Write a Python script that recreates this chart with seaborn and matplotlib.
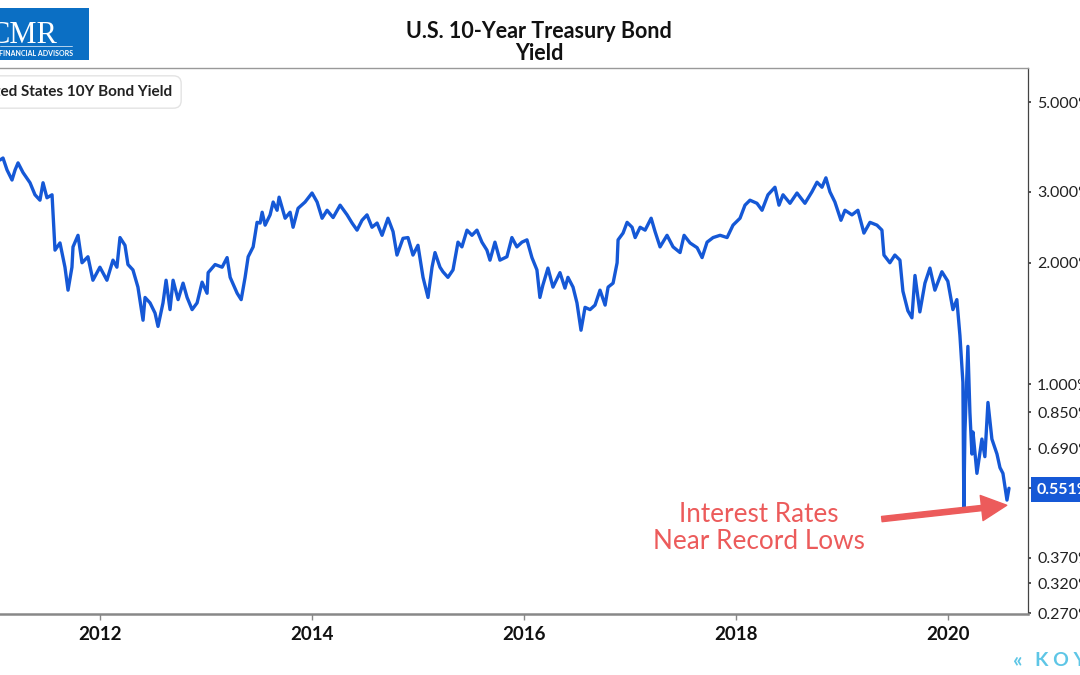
import numpy as np
import pandas as pd
import matplotlib
matplotlib.use("Agg")
import matplotlib.pyplot as plt
import matplotlib.dates as mdates
from matplotlib.patches import Rectangle
import seaborn as sns

# ---- data (decimal year, 10Y yield in %) ----
years = [
    2011.057, 2011.085, 2011.123, 2011.170, 2011.199, 2011.227, 2011.274, 2011.340,
    2011.387, 2011.434, 2011.463, 2011.500, 2011.548, 2011.576, 2011.623, 2011.670,
    2011.699, 2011.736, 2011.746, 2011.793, 2011.831, 2011.887, 2011.934, 2012.000,
    2012.066, 2012.123, 2012.160, 2012.189, 2012.236, 2012.264, 2012.311, 2012.358,
    2012.406, 2012.425, 2012.472, 2012.519, 2012.547, 2012.594, 2012.623, 2012.660,
    2012.689, 2012.736, 2012.783, 2012.821, 2012.868, 2012.915, 2012.962, 2013.009,
    2013.019, 2013.085, 2013.151, 2013.198, 2013.227, 2013.293, 2013.331, 2013.368,
    2013.397, 2013.444, 2013.481, 2013.510, 2013.529, 2013.557, 2013.604, 2013.633,
    2013.670, 2013.689, 2013.746, 2013.793, 2013.821, 2013.868, 2013.934, 2014.000,
    2014.048, 2014.095, 2014.142, 2014.199, 2014.265, 2014.331, 2014.378, 2014.425,
    2014.472, 2014.519, 2014.566, 2014.614, 2014.661, 2014.717, 2014.765, 2014.802,
    2014.859, 2014.906, 2014.953, 2015.000, 2015.048, 2015.095, 2015.133, 2015.161,
    2015.208, 2015.236, 2015.283, 2015.331, 2015.378, 2015.415, 2015.463, 2015.510,
    2015.557, 2015.604, 2015.651, 2015.680, 2015.727, 2015.774, 2015.840, 2015.887,
    2015.934, 2015.982, 2016.029, 2016.076, 2016.123, 2016.151, 2016.179, 2016.227,
    2016.274, 2016.340, 2016.387, 2016.415, 2016.463, 2016.500, 2016.538, 2016.576,
    2016.623, 2016.670, 2016.717, 2016.765, 2016.793, 2016.840, 2016.878, 2016.887,
    2016.934, 2016.972, 2017.019, 2017.048, 2017.095, 2017.142, 2017.199, 2017.236,
    2017.283, 2017.349, 2017.406, 2017.472, 2017.510, 2017.566, 2017.633, 2017.680,
    2017.727, 2017.784, 2017.850, 2017.916, 2017.972, 2018.038, 2018.085, 2018.132,
    2018.198, 2018.246, 2018.302, 2018.368, 2018.406, 2018.444, 2018.510, 2018.576,
    2018.651, 2018.717, 2018.765, 2018.812, 2018.849, 2018.887, 2018.934, 2018.991,
    2019.029, 2019.095, 2019.151, 2019.208, 2019.265, 2019.331, 2019.378, 2019.397,
    2019.453, 2019.500, 2019.548, 2019.576, 2019.623, 2019.661, 2019.690, 2019.736,
    2019.784, 2019.831, 2019.878, 2019.944, 2020.000, 2020.048, 2020.085, 2020.114,
    2020.142, 2020.151, 2020.161, 2020.189, 2020.208, 2020.227, 2020.237, 2020.274,
    2020.321, 2020.349, 2020.378, 2020.415, 2020.463, 2020.491, 2020.519, 2020.557,
    2020.576,
]
yields = [
    3.60, 3.64, 3.40, 3.21, 3.40, 3.54, 3.35, 3.16,
    2.95, 2.86, 3.16, 2.90, 2.95, 2.15, 2.24, 1.95,
    1.71, 1.95, 2.19, 2.34, 2.00, 2.07, 1.81, 1.95,
    1.81, 2.03, 1.95, 2.31, 2.21, 1.98, 1.92, 1.74,
    1.44, 1.64, 1.59, 1.50, 1.39, 1.59, 1.81, 1.53,
    1.81, 1.62, 1.78, 1.64, 1.53, 1.59, 1.79, 1.68,
    1.89, 1.98, 1.95, 2.06, 1.84, 1.68, 1.62, 1.84,
    2.07, 2.19, 2.52, 2.51, 2.67, 2.48, 2.63, 2.83,
    2.70, 2.91, 2.58, 2.67, 2.45, 2.73, 2.83, 2.98,
    2.83, 2.58, 2.70, 2.59, 2.78, 2.63, 2.51, 2.41,
    2.55, 2.63, 2.45, 2.51, 2.34, 2.58, 2.39, 2.09,
    2.30, 2.31, 2.09, 2.21, 1.84, 1.64, 1.95, 2.12,
    1.95, 1.90, 1.84, 1.92, 2.25, 2.19, 2.41, 2.34,
    2.41, 2.25, 2.15, 2.03, 2.25, 2.03, 2.07, 2.31,
    2.19, 2.25, 2.28, 2.06, 1.92, 1.64, 1.76, 1.94,
    1.74, 1.89, 1.73, 1.84, 1.74, 1.59, 1.36, 1.55,
    1.53, 1.57, 1.71, 1.57, 1.74, 1.78, 2.00, 2.28,
    2.37, 2.52, 2.45, 2.31, 2.45, 2.41, 2.58, 2.39,
    2.19, 2.34, 2.19, 2.12, 2.34, 2.24, 2.18, 2.06,
    2.25, 2.31, 2.34, 2.31, 2.48, 2.58, 2.78, 2.86,
    2.81, 2.70, 2.95, 3.08, 2.78, 2.95, 2.81, 2.98,
    2.81, 3.00, 3.17, 3.08, 3.25, 3.00, 2.83, 2.55,
    2.70, 2.63, 2.70, 2.37, 2.52, 2.48, 2.41, 2.09,
    2.00, 2.09, 2.03, 1.70, 1.52, 1.46, 1.86, 1.51,
    1.78, 1.94, 1.71, 1.90, 1.80, 1.53, 1.62, 1.32,
    1.01, 0.495, 0.76, 1.24, 0.85, 0.67, 0.76, 0.60,
    0.73, 0.66, 0.90, 0.73, 0.67, 0.62, 0.60, 0.515,
    0.551,
]
ytick_values = [0.27, 0.32, 0.37, 0.551, 0.69, 0.85, 1.0, 2.0, 3.0, 5.0]
xtick_years = [2012, 2014, 2016, 2018, 2020]
series_label = "United States 10Y Bond Yield"
title_lines = ["U.S. 10-Year Treasury Bond", "Yield"]
note_text = "Interest Rates\nNear Record Lows"
last_value_label = "0.551%"


def dec_to_date(y):
    yr = int(np.floor(y))
    start = pd.Timestamp(yr, 1, 1)
    end = pd.Timestamp(yr + 1, 1, 1)
    return start + (end - start) * (y - yr)


df = pd.DataFrame({"date": [dec_to_date(y) for y in years], "yield": yields})

sns.set_theme(style="white")
plt.rcParams["font.family"] = ["Lato", "DejaVu Sans"]

BLUE = "#1558d6"
RED = "#ec5b5b"
W, H = 1080, 675

fig = plt.figure(figsize=(W / 100, H / 100), dpi=100)
fig.patch.set_facecolor("white")
ax = fig.add_axes([-6 / W, 1 - 614 / H, 1034 / W, (614 - 68) / H])

sns.lineplot(data=df, x="date", y="yield", ax=ax, color=BLUE, linewidth=2.4,
             estimator=None, sort=False)

ax.set_yscale("log")
ax.set_ylim(0.2685, 6.09)
ax.set_xlim(dec_to_date(2011.0), dec_to_date(2020.755))

ax.yaxis.tick_right()
ax.set_yticks(ytick_values)
ax.set_yticklabels([f"{v:.3f}%" for v in ytick_values])
ax.yaxis.set_minor_locator(matplotlib.ticker.NullLocator())
ax.set_xticks([pd.Timestamp(y, 1, 1) for y in xtick_years])
ax.xaxis.set_major_formatter(mdates.DateFormatter("%Y"))
ax.set_xlabel("")
ax.set_ylabel("")

ax.tick_params(axis="y", which="major", right=True, left=False, length=2.5, width=1.2,
               color="#333333", pad=4, labelsize=11.5, labelcolor="#222222")
ax.tick_params(axis="x", which="major", bottom=True, length=4, width=1.0,
               color="#888888", pad=5, labelsize=13.5, labelcolor="#111111")
for lab in ax.get_xticklabels():
    lab.set_fontweight("bold")
for lab in ax.get_yticklabels():
    if lab.get_text() == last_value_label:
        lab.set_color("white")
        lab.set_fontweight("bold")
        lab.set_bbox(dict(boxstyle="square,pad=0.35", fc=BLUE, ec="none"))

ax.spines["left"].set_visible(False)
ax.spines["top"].set_color("#999999")
ax.spines["top"].set_linewidth(1.0)
ax.spines["bottom"].set_color("#888888")
ax.spines["bottom"].set_linewidth(1.8)
ax.spines["right"].set_color("#444444")
ax.spines["right"].set_linewidth(0.9)
ax.grid(False)

# Title
fig.text(539 / W, 1 - 31 / H, title_lines[0], ha="center", va="center",
         fontsize=15.5, fontweight="bold", color="#111111")
fig.text(539 / W, 1 - 53 / H, title_lines[1], ha="center", va="center",
         fontsize=15.5, fontweight="bold", color="#111111")

# Legend-like label box
fig.text(172 / W, 1 - 92 / H, series_label, ha="right", va="center",
         fontsize=11, fontweight="bold", color="#222222",
         bbox=dict(boxstyle="round,pad=0.6,rounding_size=0.5", fc="white",
                   ec="#e3e3e3", lw=1.0))

# Logo block
fig.patches.append(Rectangle((0, 1 - 60 / H), 89 / W, 52 / H, transform=fig.transFigure,
                             facecolor="#0b6fc4", edgecolor="none", zorder=0))
fig.text(58 / W, 1 - 43 / H, "CMR", ha="right", va="baseline", fontsize=22,
         color="white", family=["Liberation Serif", "DejaVu Serif"])
fig.lines.append(plt.Line2D([0, 72 / W], [1 - 45.5 / H, 1 - 45.5 / H],
                            transform=fig.transFigure, color="#cfe2f5", lw=0.6))
fig.text(73 / W, 1 - 53 / H, "FINANCIAL ADVISORS", ha="right", va="center",
         fontsize=5, fontweight="bold", color="white")

# Annotation
ax.text(dec_to_date(2018.217), 0.44, note_text, ha="center", va="center",
        fontsize=18.8, color=RED, linespacing=1.1)
ax.annotate("", xy=(dec_to_date(2020.555), 0.50), xytext=(dec_to_date(2019.377), 0.462),
            arrowprops=dict(arrowstyle="simple,head_length=1.3,head_width=1.3,tail_width=0.27",
                            color=RED, mutation_scale=14, shrinkA=0, shrinkB=0))

# Watermark
fig.text(1013 / W, 1 - 660 / H, "«", ha="left", va="center", fontsize=15,
         color="#5ec6e6", fontweight="bold")
fig.text(1035 / W, 1 - 660 / H, "K O Y F I N", ha="left", va="center", fontsize=14,
         color="#5ec6e6", fontweight="bold")

fig.savefig("out.png", dpi=100, facecolor="white")
